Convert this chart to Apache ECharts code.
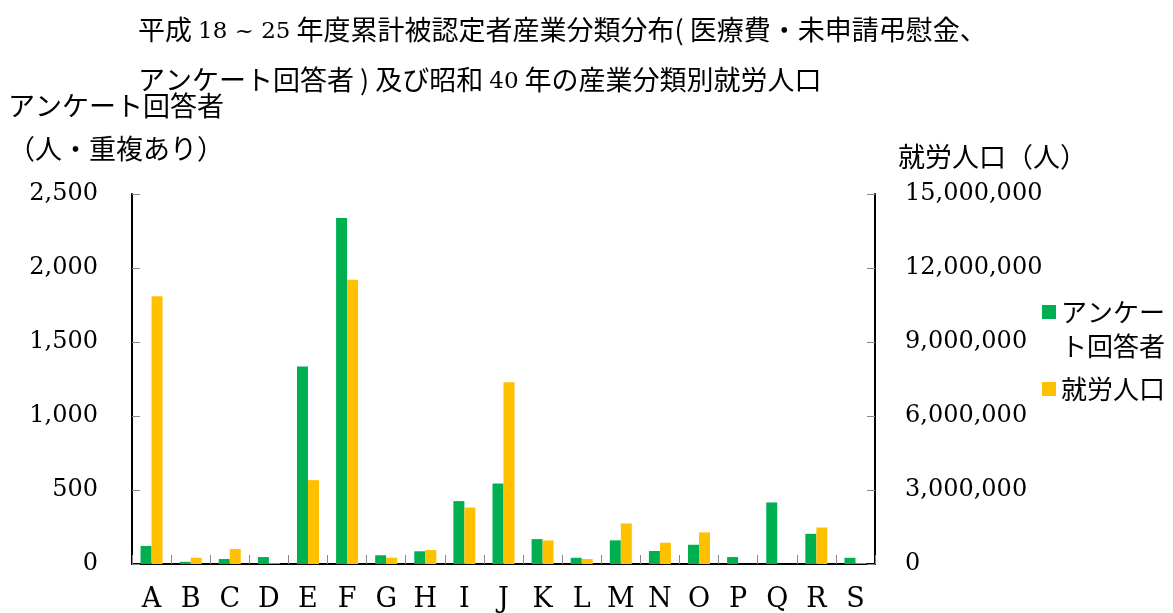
<!DOCTYPE html>
<html>
<head>
<meta charset="utf-8">
<script src="https://cdn.jsdelivr.net/npm/echarts@6/dist/echarts.min.js"></script>
<style>
  html, body { margin: 0; padding: 0; background: #fff; }
  #main { width: 1173px; height: 613px; }
</style>
</head>
<body>
<div id="main"></div>
<script>
// 産業分類 A〜S
const categories = ['A', 'B', 'C', 'D', 'E', 'F', 'G', 'H', 'I', 'J', 'K', 'L', 'M', 'N', 'O', 'P', 'Q', 'R', 'S'];
// アンケート回答者（人・重複あり）
const respondents = [122, 15, 34, 47, 1334, 2338, 59, 86, 425, 544, 168, 42, 160, 88, 130, 47, 416, 204, 42];
// 昭和40年 就労人口（人）
const workers = [10850000, 255000, 606000, 30000, 3400000, 11520000, 255000, 566000, 2290000, 7370000, 958000, 202000, 1645000, 862000, 1280000, 0, 0, 1480000, 30000];

const SERIF = '"DejaVu Serif", "Liberation Serif", serif';
const JP = '"Noto Sans CJK JP", sans-serif';

const chart = echarts.init(document.getElementById('main'));

const fmt = v => v.toLocaleString('en-US');

chart.setOption({
  animation: false,
  title: {
    text: '平成 {s|18 ~ 25} 年度累計被認定者産業分類分布( 医療費・未申請弔慰金、\nアンケート回答者 ) 及び昭和 {s|40} 年の産業分類別就労人口',
    left: 133,
    top: 0,
    textStyle: {
      fontFamily: JP, fontSize: 27, fontWeight: 'normal', color: '#000', lineHeight: 50,
      rich: { s: { fontFamily: SERIF, fontSize: 23, color: '#000', lineHeight: 50, padding: [5, 0, 0, 0] } }
    }
  },
  legend: {
    orient: 'vertical',
    left: 1037,
    top: 256,
    itemWidth: 14,
    itemHeight: 14,
    itemGap: 9,
    icon: 'rect',
    // 凡例の四角を一行目にそろえるため、上に空行を入れる
    formatter: name => name === 'アンケート回答者' ? '{e| }\n{t|アンケー}\n{t|ト回答者}' : '{t|' + name + '}',
    textStyle: {
      fontFamily: JP, fontSize: 26, color: '#000', lineHeight: 34,
      rich: {
        e: { fontSize: 26, lineHeight: 34 },
        t: { fontFamily: JP, fontSize: 26, color: '#000', lineHeight: 34 }
      }
    }
  },
  grid: { left: 132, right: 298, top: 194, bottom: 48 },
  xAxis: {
    type: 'category',
    data: categories,
    axisLine: { lineStyle: { color: '#000', width: 2 } },
    axisTick: { show: true, inside: true, length: 9, lineStyle: { color: '#888' } },
    axisLabel: { fontFamily: SERIF, fontSize: 27, color: '#000', margin: 22 }
  },
  yAxis: [
    {
      type: 'value',
      min: 0,
      max: 2500,
      interval: 500,
      name: 'アンケート回答者\n（人・重複あり）',
      nameLocation: 'end',
      nameGap: 24,
      nameTextStyle: { fontFamily: JP, fontSize: 27, color: '#000', align: 'left', lineHeight: 43, padding: [0, 0, 0, -124] },
      splitLine: { show: false },
      axisLine: { show: true, lineStyle: { color: '#000', width: 2 } },
      axisTick: { show: true, inside: true, length: 8, lineStyle: { color: '#888' } },
      axisLabel: { fontFamily: SERIF, fontSize: 24, color: '#000', margin: 34, formatter: fmt }
    },
    {
      type: 'value',
      min: 0,
      max: 15000000,
      interval: 3000000,
      name: '就労人口（人）',
      nameLocation: 'end',
      nameGap: 24,
      nameTextStyle: { fontFamily: JP, fontSize: 27, color: '#000', align: 'left', padding: [0, 0, 0, 23] },
      splitLine: { show: false },
      axisLine: { show: true, lineStyle: { color: '#000', width: 2 } },
      axisTick: { show: true, inside: true, length: 8, lineStyle: { color: '#888' } },
      axisLabel: { fontFamily: SERIF, fontSize: 24, color: '#000', margin: 30, formatter: fmt }
    }
  ],
  series: [
    {
      name: 'アンケート回答者',
      type: 'bar',
      yAxisIndex: 0,
      data: respondents,
      barWidth: 11,
      barGap: '0%',
      itemStyle: { color: '#00B050' }
    },
    {
      name: '就労人口',
      type: 'bar',
      yAxisIndex: 1,
      data: workers,
      barWidth: 11,
      barGap: '0%',
      itemStyle: { color: '#FFC000' }
    }
  ]
});
</script>
</body>
</html>
